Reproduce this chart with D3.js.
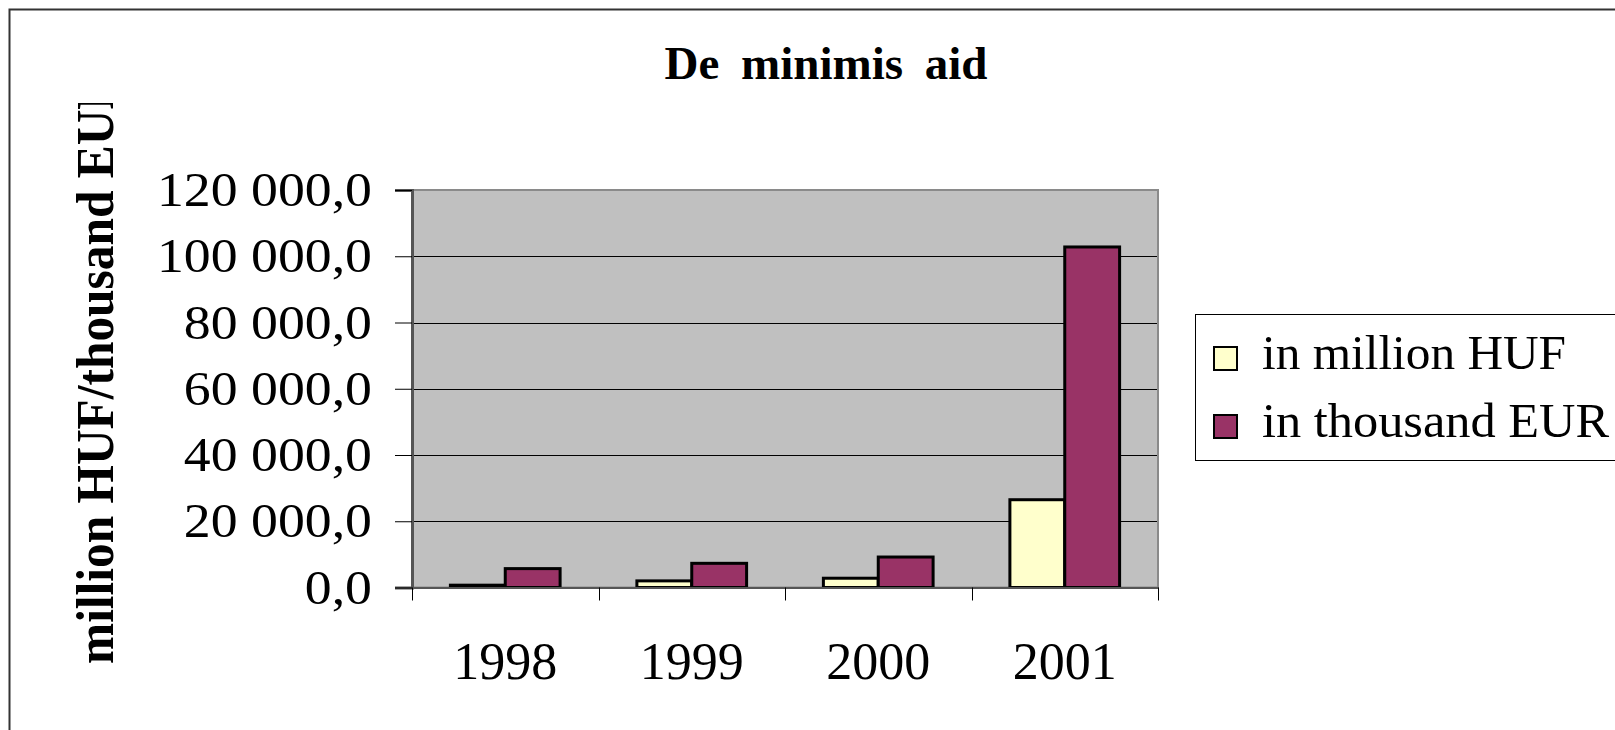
<!DOCTYPE html>
<html>
<head>
<meta charset="utf-8">
<script src="https://cdn.jsdelivr.net/npm/d3@7"></script>
<style>
  html, body { margin: 0; padding: 0; background: #fff; overflow: hidden; }
  svg { display: block; font-family: "Liberation Serif", "Times New Roman", serif; }
</style>
</head>
<body>
<svg id="chart" width="1615" height="730"></svg>
<script>
// ---- data ----
const categories = ["1998", "1999", "2000", "2001"];
const seriesNames = ["in million HUF", "in thousand EUR"];
const hufValues = [700, 2000, 2800, 26500];
const eurValues = [5700, 7300, 9200, 102800];
const yTickValues = [0, 20000, 40000, 60000, 80000, 100000, 120000];
const titleText = "De minimis aid";
const yAxisTitle = "million HUF/thousand EUR";

// ---- setup ----
const svg = d3.select("#chart");
const colors = d3.scaleOrdinal().domain(seriesNames).range(["#FFFFCC", "#993366"]);
const rows = categories.map((c, i) => ({ cat: c, values: [
  { key: seriesNames[0], value: hufValues[i] },
  { key: seriesNames[1], value: eurValues[i] }
]}));

const plot = { left: 412, right: 1158, top: 190, bottom: 587.5 };

const x0 = d3.scaleBand().domain(categories).range([plot.left, plot.right]).padding(0);
const x1 = d3.scaleBand().domain(seriesNames).range([0, x0.bandwidth()]).paddingInner(0).paddingOuter(0.7);
const y = d3.scaleLinear().domain([0, 120000]).range([plot.bottom, plot.top]);

const fmt = d3.formatLocale({ decimal: ",", thousands: "\u00a0", grouping: [3], currency: ["", ""] }).format(",.1f");

// outer frame
svg.append("rect").attr("x", 9.5).attr("y", 9.5).attr("width", 1700).attr("height", 800)
  .attr("fill", "#fff").attr("stroke", "#333").attr("stroke-width", 2);

// title
svg.append("text").attr("x", 826).attr("y", 79).attr("text-anchor", "middle")
  .attr("font-size", 47).attr("font-weight", "bold").attr("word-spacing", 10)
  .text(titleText);

// plot background
svg.append("rect").attr("x", plot.left).attr("y", plot.top)
  .attr("width", plot.right - plot.left).attr("height", plot.bottom - plot.top)
  .attr("fill", "#C0C0C0");

// gridlines
svg.append("g").selectAll("line").data(yTickValues.filter(v => v > 0 && v < 120000)).join("line")
  .attr("x1", plot.left).attr("x2", plot.right)
  .attr("y1", d => Math.round(y(d)) + 0.5).attr("y2", d => Math.round(y(d)) + 0.5)
  .attr("stroke", "#000").attr("stroke-width", 1);

// plot border
svg.append("rect").attr("x", plot.left).attr("y", plot.top)
  .attr("width", plot.right - plot.left).attr("height", plot.bottom - plot.top)
  .attr("fill", "none").attr("stroke", "#8a8a8a").attr("stroke-width", 2);

// bars
const groups = svg.append("g").selectAll("g").data(rows).join("g")
  .attr("transform", d => `translate(${x0(d.cat)},0)`);
groups.selectAll("rect").data(d => d.values).join("rect")
  .attr("x", d => x1(d.key))
  .attr("width", x1.bandwidth())
  .attr("y", d => y(d.value))
  .attr("height", d => y(0) - y(d.value))
  .attr("fill", d => colors(d.key))
  .attr("stroke", "#000").attr("stroke-width", 3).attr("stroke-linejoin", "miter");

// y axis
const yAxis = d3.axisLeft(y).tickValues(yTickValues).tickSize(17).tickFormat("");
const gy = svg.append("g").attr("transform", `translate(${plot.left},0)`).call(yAxis);
gy.select(".domain").attr("stroke", "#555").attr("stroke-width", 3);
gy.selectAll(".tick line").attr("stroke", "#000");

// y tick labels
svg.append("g").selectAll("text").data(yTickValues).join("text")
  .attr("transform", d => `translate(372,${y(d) + 16}) scale(1.12,1)`)
  .attr("text-anchor", "end").attr("font-size", 48)
  .text(d => fmt(d));

// x axis
const xAxis = d3.axisBottom(x0).tickSize(0).tickFormat("");
const gx = svg.append("g").attr("transform", `translate(0,${plot.bottom})`).call(xAxis);
gx.select(".domain").attr("stroke", "#555").attr("stroke-width", 2);
const boundaries = categories.map(c => x0(c)).concat([plot.right]);
gx.selectAll(".bound").data(boundaries).join("line").attr("class", "bound")
  .attr("x1", d => Math.round(d) + 0.5).attr("x2", d => Math.round(d) + 0.5)
  .attr("y1", 0).attr("y2", 13).attr("stroke", "#000");

svg.append("g").selectAll("text").data(categories).join("text")
  .attr("x", d => x0(d) + x0.bandwidth() / 2).attr("y", 679)
  .attr("text-anchor", "middle").attr("font-size", 52)
  .text(d => d);

// y axis title (clipped at top)
svg.append("clipPath").attr("id", "ytclip").append("rect")
  .attr("x", 40).attr("y", 103).attr("width", 120).attr("height", 600);
svg.append("g").attr("clip-path", "url(#ytclip)")
  .append("text")
  .attr("transform", "translate(113,664) rotate(-90)")
  .attr("text-anchor", "start").attr("font-size", 52).attr("font-weight", "bold")
  .attr("textLength", 590).attr("lengthAdjust", "spacingAndGlyphs")
  .text(yAxisTitle);

// legend
const lg = svg.append("g");
lg.append("rect").attr("x", 1195.5).attr("y", 314.5).attr("width", 500).attr("height", 146)
  .attr("fill", "#fff").attr("stroke", "#000").attr("stroke-width", 1);
const items = lg.selectAll("g.item").data(seriesNames).join("g").attr("class", "item")
  .attr("transform", (d, i) => `translate(0,${i * 68})`);
items.append("rect").attr("x", 1214).attr("y", 347).attr("width", 23).attr("height", 23)
  .attr("fill", d => colors(d)).attr("stroke", "#000").attr("stroke-width", 2);
items.append("text").attr("x", 1262).attr("y", 369).attr("font-size", 48)
  .attr("textLength", (d, i) => i === 0 ? 304 : 347).attr("lengthAdjust", "spacingAndGlyphs")
  .text(d => d);
</script>
</body>
</html>
